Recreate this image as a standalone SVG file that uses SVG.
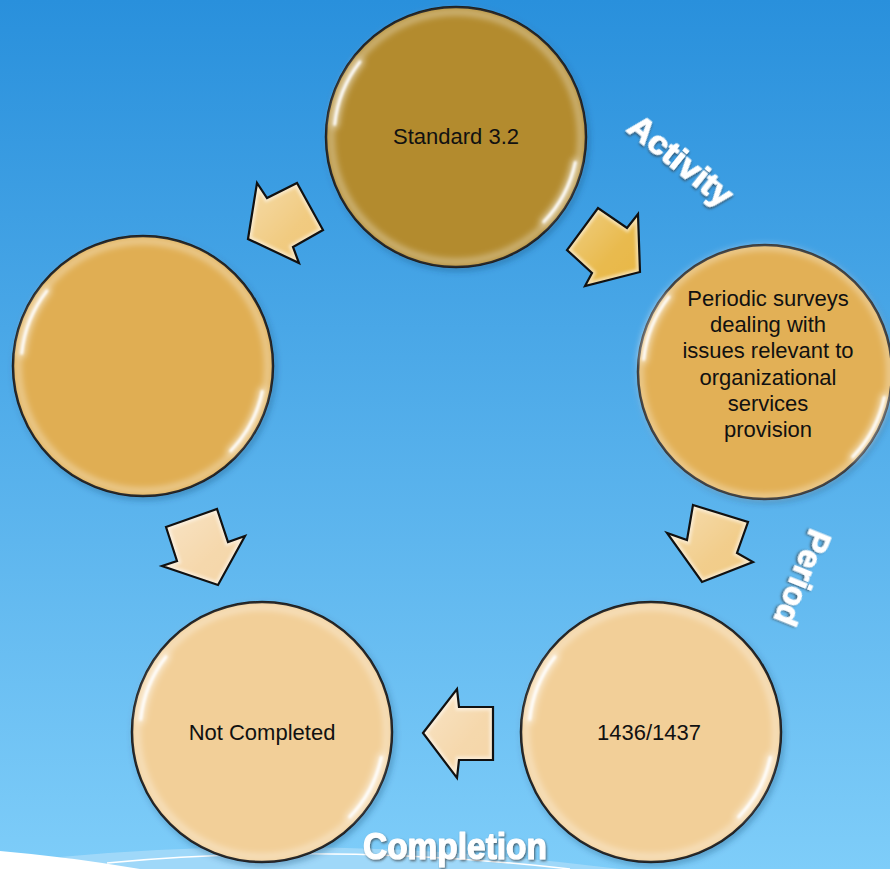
<svg xmlns="http://www.w3.org/2000/svg" xmlns:xlink="http://www.w3.org/1999/xlink" width="890" height="869" viewBox="0 0 890 869">
<style>
.ctext{font-family:"Liberation Sans",Arial,sans-serif;font-size:22px;fill:#111;text-anchor:middle}
.label{font-family:"Liberation Sans",Arial,sans-serif;font-weight:bold;fill:#fff;stroke:#fff;stroke-width:1.2;stroke-linejoin:round;text-anchor:middle}
.ring{stroke:#0a0a0a;stroke-width:2.5}
.aout{fill:none;stroke:#111;stroke-width:2.2;stroke-linejoin:miter}
.bevel{fill:none;stroke:#fff;stroke-opacity:0.5;stroke-width:7}
</style>
<defs>
<linearGradient id="bg" x1="0" y1="0" x2="0" y2="1">
<stop offset="0" stop-color="#2990DC"/>
<stop offset="1" stop-color="#7ECDF9"/>
</linearGradient>
<linearGradient id="sheen" x1="0" y1="0" x2="1" y2="1">
<stop offset="0" stop-color="#fff" stop-opacity="0.35"/>
<stop offset="0.6" stop-color="#fff" stop-opacity="0.05"/>
<stop offset="1" stop-color="#fff" stop-opacity="0"/>
</linearGradient>
<filter id="shadow" x="-20%" y="-20%" width="140%" height="140%">
<feDropShadow dx="2" dy="3" stdDeviation="3" flood-color="#0a3a66" flood-opacity="0.35"/>
</filter>
<filter id="b1" filterUnits="userSpaceOnUse" x="-160" y="-160" width="320" height="320">
<feGaussianBlur stdDeviation="1"/>
</filter>
<filter id="b3" filterUnits="userSpaceOnUse" x="-160" y="-160" width="320" height="320">
<feGaussianBlur stdDeviation="3"/>
</filter>
<filter id="ab" x="-20%" y="-20%" width="140%" height="140%">
<feGaussianBlur stdDeviation="1.5"/>
</filter>
<filter id="txtsh" x="-10%" y="-20%" width="120%" height="150%">
<feDropShadow dx="1" dy="1.5" stdDeviation="0.8" flood-color="#333" flood-opacity="0.7"/>
</filter>
<g id="gloss">
<circle r="125" fill="none" stroke="#fff" stroke-opacity="0.4" stroke-width="6" filter="url(#b3)"/>
<path d="M -121.3 -12.7 A 122 122 0 0 1 -96.1 -75.1" fill="none" stroke="#fff" stroke-width="9" stroke-opacity="0.45" stroke-linecap="round" filter="url(#b3)"/>
<path d="M -121.3 -12.7 A 122 122 0 0 1 -96.1 -75.1" fill="none" stroke="#fff" stroke-width="3" stroke-opacity="0.95" stroke-linecap="round" filter="url(#b1)"/>
<path d="M 119.3 25.4 A 122 122 0 0 1 87.8 84.8" fill="none" stroke="#fff" stroke-width="9" stroke-opacity="0.45" stroke-linecap="round" filter="url(#b3)"/>
<path d="M 119.3 25.4 A 122 122 0 0 1 87.8 84.8" fill="none" stroke="#fff" stroke-width="3" stroke-opacity="0.95" stroke-linecap="round" filter="url(#b1)"/>
</g>
<polygon id="a1" points="248,239 257,183 267,198 297,183 323,230 293,247 299,263"/>
<polygon id="a2" points="640,272 638,214 627,228 598,208 567,250 592,273 585,286"/>
<polygon id="a3" points="693,505 748,522 737,553 753,562 702,582 667,533 687,540"/>
<polygon id="a4" points="166,527 217,509 228,542 245,536 218,585 162,566 177,561"/>
<polygon id="a5" points="423,733 457,689 459,707 493,707 493,760 459,760 457,778"/>
<clipPath id="c1"><use xlink:href="#a1"/></clipPath>
<clipPath id="c2"><use xlink:href="#a2"/></clipPath>
<clipPath id="c3"><use xlink:href="#a3"/></clipPath>
<clipPath id="c4"><use xlink:href="#a4"/></clipPath>
<clipPath id="c5"><use xlink:href="#a5"/></clipPath>
</defs>

<rect width="890" height="869" fill="url(#bg)"/>
<g id="swoosh">
<path d="M 60 857 Q 330 832 620 869 L 130 869 Z" fill="#A8DBF9" fill-opacity="0.8"/>
<path d="M 107 863 Q 330 842 570 869" fill="none" stroke="#fff" stroke-width="1.5"/>
<path d="M 0 851 Q 70 857 140 869 L 0 869 Z" fill="#fff"/>
</g>

<g id="connectors">
<g id="arrow-standard-left">
<use xlink:href="#a1" fill="#F0C87A"/>
<use xlink:href="#a1" fill="url(#sheen)"/>
<g clip-path="url(#c1)"><use xlink:href="#a1" class="bevel" filter="url(#ab)"/></g>
<use xlink:href="#a1" class="aout"/>
</g>
<g id="arrow-standard-periodic">
<use xlink:href="#a2" fill="#E8B745"/>
<use xlink:href="#a2" fill="url(#sheen)"/>
<g clip-path="url(#c2)"><use xlink:href="#a2" class="bevel" filter="url(#ab)"/></g>
<use xlink:href="#a2" class="aout"/>
</g>
<g id="arrow-periodic-year">
<use xlink:href="#a3" fill="#F1CB86"/>
<use xlink:href="#a3" fill="url(#sheen)"/>
<g clip-path="url(#c3)"><use xlink:href="#a3" class="bevel" filter="url(#ab)"/></g>
<use xlink:href="#a3" class="aout"/>
</g>
<g id="arrow-left-notcompleted">
<use xlink:href="#a4" fill="#F5D6A8"/>
<use xlink:href="#a4" fill="url(#sheen)"/>
<g clip-path="url(#c4)"><use xlink:href="#a4" class="bevel" filter="url(#ab)"/></g>
<use xlink:href="#a4" class="aout"/>
</g>
<g id="arrow-year-notcompleted">
<use xlink:href="#a5" fill="#F5D6A8"/>
<use xlink:href="#a5" fill="url(#sheen)"/>
<g clip-path="url(#c5)"><use xlink:href="#a5" class="bevel" filter="url(#ab)"/></g>
<use xlink:href="#a5" class="aout"/>
</g>
</g>

<g id="n-standard">
<circle cx="456" cy="137" r="130" fill="#B38B2E" class="ring" filter="url(#shadow)"/>
<use xlink:href="#gloss" x="456" y="137"/>
<text class="ctext" x="456" y="144">Standard 3.2</text>
</g>

<g id="n-periodic">
<circle cx="765" cy="372" r="127" fill="#E2B057" class="ring" filter="url(#shadow)"/>
<use xlink:href="#gloss" x="765" y="372"/>
<text class="ctext" x="768" y="306">Periodic surveys</text>
<text class="ctext" x="768" y="332">dealing with</text>
<text class="ctext" x="768" y="358">issues relevant to</text>
<text class="ctext" x="768" y="385">organizational</text>
<text class="ctext" x="768" y="411">services</text>
<text class="ctext" x="768" y="437">provision</text>
</g>

<g id="n-left">
<circle cx="143" cy="366" r="130" fill="#E0AE52" class="ring" filter="url(#shadow)"/>
<use xlink:href="#gloss" x="143" y="366"/>
</g>

<g id="n-notcompleted">
<circle cx="262" cy="732" r="130" fill="#F2CF98" class="ring" filter="url(#shadow)"/>
<use xlink:href="#gloss" x="262" y="732"/>
<text class="ctext" x="262" y="740">Not Completed</text>
</g>

<g id="n-year">
<circle cx="651" cy="732" r="130" fill="#F2CF98" class="ring" filter="url(#shadow)"/>
<use xlink:href="#gloss" x="651" y="732"/>
<text class="ctext" x="649" y="740">1436/1437</text>
</g>

<g id="labels">
<text class="label" font-size="34" transform="translate(681,160) rotate(39)" y="12" textLength="124" lengthAdjust="spacingAndGlyphs" filter="url(#txtsh)">Activity</text>
<text class="label" font-size="34" transform="translate(803,578) rotate(112)" y="12" textLength="100" lengthAdjust="spacingAndGlyphs" filter="url(#txtsh)">Period</text>
<text class="label" font-size="36" x="455" y="859" textLength="184" lengthAdjust="spacingAndGlyphs" filter="url(#txtsh)">Completion</text>
</g>
</svg>
